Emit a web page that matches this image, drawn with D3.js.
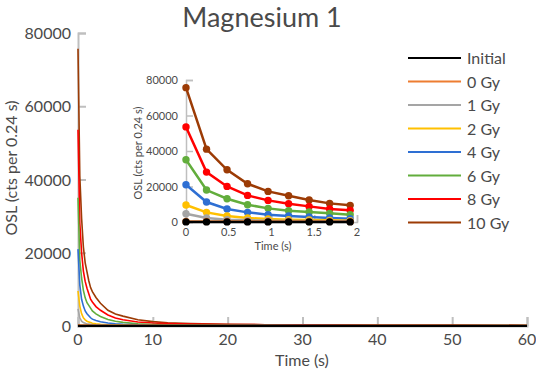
<!DOCTYPE html>
<html>
<head>
<meta charset="utf-8">
<script src="https://cdn.jsdelivr.net/npm/d3@7"></script>
<style>
  body { margin: 0; background: #fff; }
  text { font-family: Lato, "Open Sans", sans-serif; fill: #4a4a4a; }
</style>
</head>
<body>
<div id="chart"></div>
<script>
// sample times (s); first 9 are the inset points
var times = [0, 0.24, 0.48, 0.72, 0.96, 1.2, 1.44, 1.68, 1.92, 2.4, 3, 4, 5, 6, 8, 10, 12, 15, 20, 25, 30, 40, 50, 60];
var seriesNames = ["Initial", "0 Gy", "1 Gy", "2 Gy", "4 Gy", "6 Gy", "8 Gy", "10 Gy"];
var seriesColors = ["#000000", "#ed7d31", "#a5a5a5", "#ffc000", "#2e6fd3", "#62ad3c", "#ff0000", "#9c3b05"];

var initialVals = [60, 55, 55, 50, 50, 50, 50, 50, 50, 50, 50, 50, 50, 50, 45, 45, 45, 45, 45, 40, 40, 40, 40, 40];
var gy0Vals  = [350, 300, 280, 260, 250, 240, 230, 220, 210, 200, 200, 190, 190, 180, 180, 170, 170, 160, 160, 150, 150, 150, 140, 140];
var gy1Vals  = [4680, 2250, 1310, 940, 750, 560, 500, 450, 400, 330, 270, 200, 160, 130, 100, 80, 70, 60, 50, 45, 40, 35, 30, 30];
var gy2Vals  = [9550, 5430, 3370, 2250, 1690, 1310, 1120, 940, 750, 600, 450, 320, 250, 200, 140, 110, 90, 80, 70, 65, 60, 50, 50, 40];
var gy4Vals  = [20980, 11240, 7300, 5430, 4120, 3370, 2810, 2250, 1870, 1500, 1150, 800, 600, 450, 300, 220, 180, 150, 120, 110, 100, 80, 70, 60];
var gy6Vals  = [35030, 17990, 13110, 9740, 7680, 6370, 5620, 4870, 4120, 3300, 2600, 1800, 1300, 1000, 600, 420, 330, 260, 200, 170, 150, 120, 100, 90];
var gy8Vals  = [53580, 28100, 20050, 15000, 12180, 10300, 8800, 7300, 6560, 5300, 4300, 3000, 2200, 1700, 1100, 800, 650, 500, 400, 350, 300, 220, 180, 150];
var gy10Vals = [75690, 41030, 29410, 21540, 17240, 14800, 12360, 10490, 9370, 7800, 6200, 4300, 3300, 2700, 1700, 1200, 900, 650, 450, 350, 300, 220, 180, 150];

var mainXTicks = [0, 10, 20, 30, 40, 50, 60];
var mainYTicks = [0, 20000, 40000, 60000, 80000];
var insetXTicks = [0, 0.5, 1, 1.5, 2];
var insetYTicks = [0, 20000, 40000, 60000, 80000];

var allVals = [initialVals, gy0Vals, gy1Vals, gy2Vals, gy4Vals, gy6Vals, gy8Vals, gy10Vals];
var series = seriesNames.map(function(n, i) {
  return { name: n, color: seriesColors[i],
           pts: times.map(function(t, j) { return [t, allVals[i][j]]; }) };
});

const W = 536, H = 373;
const axisGray = "#bfbfbf";

const svg = d3.select("#chart").append("svg")
  .attr("width", W).attr("height", H);

// title
svg.append("text").attr("x", 262).attr("y", 27)
  .attr("text-anchor", "middle").style("font-size", "27px")
  .text("Magnesium 1");

// ---- main chart
var x = d3.scaleLinear().domain([0, 60]).range([78, 527]);
var y = d3.scaleLinear().domain([0, 80000]).range([326, 33]);

// axes (ticks drawn inside, Excel style)
var gx = svg.append("g").attr("transform", "translate(0," + y(0) + ")")
  .call(d3.axisTop(x).tickValues(mainXTicks).tickSize(9).tickFormat(""));
var gy = svg.append("g").attr("transform", "translate(" + x(0) + ",0)")
  .call(d3.axisRight(y).tickValues(mainYTicks).tickSize(8).tickFormat(""));
[gx, gy].forEach(function(g) {
  g.selectAll("path,line").attr("stroke", axisGray).attr("stroke-width", 2);
});

svg.selectAll(".mxl").data(mainXTicks).enter().append("text")
  .attr("x", function(d) { return x(d); }).attr("y", 345)
  .attr("text-anchor", "middle").style("font-size", "16px")
  .text(function(d) { return d; });
svg.selectAll(".myl").data(mainYTicks).enter().append("text")
  .attr("x", 71).attr("y", function(d) { return y(d) + 6; })
  .attr("text-anchor", "end").style("font-size", "16px")
  .text(function(d) { return d; });

svg.append("text").attr("x", 302).attr("y", 366)
  .attr("text-anchor", "middle").style("font-size", "16px").text("Time (s)");
svg.append("text").attr("transform", "translate(17,168) rotate(-90)")
  .attr("text-anchor", "middle").style("font-size", "16px")
  .text("OSL (cts per 0.24 s)");

var line = d3.line().x(function(d) { return x(d[0]); }).y(function(d) { return y(d[1]); });

// later series drawn first so Initial ends up on top
svg.selectAll(".mline").data(series.slice().reverse()).enter().append("path")
  .attr("fill", "none")
  .attr("stroke", function(d) { return d.color; })
  .attr("stroke-width", function(d) { return d.name == "Initial" ? 2.2 : 1.6; })
  .attr("d", function(d) { return line(d.pts); });

// ---- inset
var xi = d3.scaleLinear().domain([0, 2]).range([186, 357]);
var yi = d3.scaleLinear().domain([0, 80000]).range([222, 80]);

var gxi = svg.append("g").attr("transform", "translate(0," + yi(0) + ")")
  .call(d3.axisTop(xi).tickValues(insetXTicks).tickSize(7).tickFormat(""));
var gyi = svg.append("g").attr("transform", "translate(" + xi(0) + ",0)")
  .call(d3.axisRight(yi).tickValues(insetYTicks).tickSize(7).tickFormat(""));
[gxi, gyi].forEach(function(g) {
  g.selectAll("path,line").attr("stroke", axisGray).attr("stroke-width", 1.5);
});

svg.selectAll(".ixl").data(insetXTicks).enter().append("text")
  .attr("x", function(d) { return xi(d); }).attr("y", 236)
  .attr("text-anchor", "middle").style("font-size", "11px")
  .text(function(d) { return d; });
svg.selectAll(".iyl").data(insetYTicks).enter().append("text")
  .attr("x", 178).attr("y", function(d) { return yi(d) + 4; })
  .attr("text-anchor", "end").style("font-size", "11px")
  .text(function(d) { return d; });
svg.append("text").attr("x", 273).attr("y", 250)
  .attr("text-anchor", "middle").style("font-size", "11px").text("Time (s)");
svg.append("text").attr("transform", "translate(142,153) rotate(-90)")
  .attr("text-anchor", "middle").style("font-size", "11px")
  .text("OSL (cts per 0.24 s)");

var linei = d3.line().x(function(d) { return xi(d[0]); }).y(function(d) { return yi(d[1]); });

var ig = svg.selectAll(".iser").data(series.slice().reverse()).enter().append("g");
ig.append("path")
  .attr("fill", "none")
  .attr("stroke", function(d) { return d.color; })
  .attr("stroke-width", 2.5)
  .attr("d", function(d) { return linei(d.pts.filter(function(p) { return p[0] <= 2; })); });
ig.selectAll("circle")
  .data(function(d) { return d.pts.filter(function(p) { return p[0] <= 2; }).map(function(p) { return { p: p, c: d.color }; }); })
  .enter().append("circle")
  .attr("cx", function(d) { return xi(d.p[0]); })
  .attr("cy", function(d) { return yi(d.p[1]); })
  .attr("r", 3.7)
  .attr("fill", function(d) { return d.c; });

// ---- legend
var lg = svg.selectAll(".leg").data(series).enter().append("g")
  .attr("transform", function(d, i) { return "translate(408," + (58 + i * 23.5) + ")"; });
lg.append("line").attr("x1", 0).attr("x2", 53)
  .attr("stroke", function(d) { return d.color; }).attr("stroke-width", 2.2);
lg.append("text").attr("x", 59).attr("y", 6).style("font-size", "16px")
  .text(function(d) { return d.name; });
</script>
</body>
</html>
